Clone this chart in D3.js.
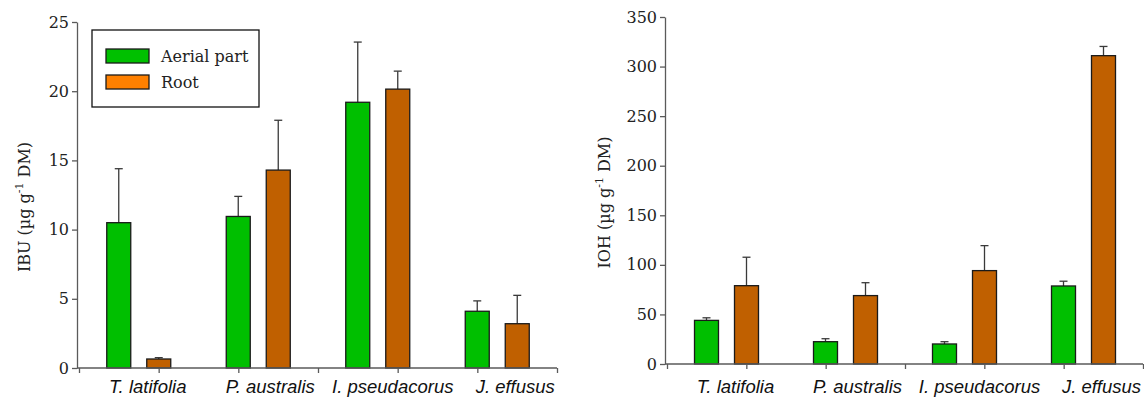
<!DOCTYPE html>
<html>
<head>
<meta charset="utf-8">
<script src="https://cdn.jsdelivr.net/npm/d3@7"></script>
<style>
  body { margin: 0; background: #fff; }
  svg { display: block; }
</style>
</head>
<body>
<div id="chart"></div>
<script>
// species on the x axis and the two plant parts
var species = ["T. latifolia", "P. australis", "I. pseudacorus", "J. effusus"];
var parts = ["Aerial part", "Root"];

// IBU (left panel)
var ibuAerial = [10.5, 10.95, 19.2, 4.1];
var ibuAerialErr = [3.9, 1.45, 4.35, 0.75];
var ibuRoot = [0.65, 14.3, 20.15, 3.2];
var ibuRootErr = [0.1, 3.6, 1.3, 2.05];
var ibuTicks = [0, 5, 10, 15, 20, 25];

// IOH (right panel)
var iohAerial = [44, 22.5, 20.2, 78.7];
var iohAerialErr = [2.6, 3, 2.3, 4.8];
var iohRoot = [79, 69, 94.2, 311];
var iohRootErr = [28.7, 13, 25.2, 9.3];
var iohTicks = [0, 50, 100, 150, 200, 250, 300, 350];

var barColors = {"Aerial part": "#00bf00", "Root": "#c06000"};
var legendColors = {"Aerial part": "#00c000", "Root": "#ff8000"};

var svg = d3.select("#chart").append("svg")
  .attr("width", 1144)
  .attr("height", 398);

function drawPanel(opt) {
  var g = svg.append("g");

  var y = d3.scaleLinear().domain([0, opt.max]).range([opt.y0, opt.y1]);
  var x = d3.scaleBand().domain(species).range([opt.x0, opt.x1]);
  var xSub = d3.scaleBand().domain(parts).range([-40, 40]).paddingInner(0.4).paddingOuter(0.2);
  // evenly spaced ticks along the x axis (six divisions, like the original)
  var xTick = d3.scaleLinear().domain([0, 6]).range([opt.x0, opt.x1]);

  // rows: one per bar
  var rows = [];
  species.forEach(function(s, i) {
    rows.push({sp: s, part: "Aerial part", v: opt.aerial[i], e: opt.aerialErr[i]});
    rows.push({sp: s, part: "Root", v: opt.root[i], e: opt.rootErr[i]});
  });
  function cx(d) { return x(d.sp) + x.bandwidth() / 2; }

  // error bars (upper only)
  var eb = g.append("g").selectAll("g").data(rows).enter().append("g")
    .attr("stroke", "#3a3a3a").attr("stroke-width", 1.3);
  eb.append("line")
    .attr("x1", function(d) { return cx(d) + xSub(d.part) + xSub.bandwidth() / 2; })
    .attr("x2", function(d) { return cx(d) + xSub(d.part) + xSub.bandwidth() / 2; })
    .attr("y1", function(d) { return y(d.v); })
    .attr("y2", function(d) { return y(d.v + d.e); });
  eb.append("line")
    .attr("x1", function(d) { return cx(d) + xSub(d.part) + xSub.bandwidth() / 2 - 4; })
    .attr("x2", function(d) { return cx(d) + xSub(d.part) + xSub.bandwidth() / 2 + 4; })
    .attr("y1", function(d) { return y(d.v + d.e); })
    .attr("y2", function(d) { return y(d.v + d.e); });

  // bars
  g.append("g").selectAll("rect").data(rows).enter().append("rect")
    .attr("x", function(d) { return cx(d) + xSub(d.part); })
    .attr("width", xSub.bandwidth())
    .attr("y", function(d) { return y(d.v); })
    .attr("height", function(d) { return y(0) - y(d.v); })
    .attr("fill", function(d) { return barColors[d.part]; })
    .attr("stroke", "#1a1a1a")
    .attr("stroke-width", 1.3);

  // y axis
  var yAxis = g.append("g")
    .attr("transform", "translate(" + (opt.x0 - 2) + ",0)")
    .call(d3.axisLeft(y).tickValues(opt.ticks).tickSize(5).tickPadding(3).tickSizeOuter(0));
  // x axis
  var xAxis = g.append("g")
    .attr("transform", "translate(0," + opt.y0 + ")")
    .call(d3.axisBottom(xTick).tickValues(d3.range(7)).tickSize(5).tickFormat("").tickSizeOuter(0));
  xAxis.select(".domain").attr("d", "M" + (opt.x0 - 2) + ",0H" + opt.x1);

  [yAxis, xAxis].forEach(function(a) {
    a.selectAll(".domain, line").attr("stroke", "#5a5a5a").attr("stroke-width", 1.3);
  });
  yAxis.selectAll("text")
    .attr("font-family", "'DejaVu Serif', serif")
    .attr("font-size", 16)
    .attr("fill", "#222");

  // species labels
  g.append("g").selectAll("text").data(species).enter().append("text")
    .attr("x", function(d, i) { return x(d) + x.bandwidth() / 2 + 9 + i * 3; })
    .attr("y", 393)
    .attr("text-anchor", "middle")
    .attr("font-family", "'Liberation Sans', Arial, sans-serif")
    .attr("font-style", "italic")
    .attr("font-size", 18.5)
    .attr("fill", "#111")
    .text(function(d) { return d; });

  // y title
  var t = g.append("text")
    .attr("transform", "translate(" + opt.titleX + "," + ((opt.y0 + opt.y1) / 2 + 12) + ") rotate(-90)")
    .attr("text-anchor", "middle")
    .attr("font-family", "'DejaVu Serif', serif")
    .attr("font-size", 16)
    .attr("fill", "#222");
  t.append("tspan").text(opt.title + "  (\u00b5g g");
  t.append("tspan").attr("font-size", 11).attr("dy", -7).text("-1");
  t.append("tspan").attr("dy", 7).text(" DM)");
}

drawPanel({
  x0: 79, x1: 557, y0: 368, y1: 22, max: 25, ticks: ibuTicks,
  aerial: ibuAerial, aerialErr: ibuAerialErr, root: ibuRoot, rootErr: ibuRootErr,
  title: "IBU", titleX: 30
});
drawPanel({
  x0: 667, x1: 1143, y0: 364, y1: 17, max: 350, ticks: iohTicks,
  aerial: iohAerial, aerialErr: iohAerialErr, root: iohRoot, rootErr: iohRootErr,
  title: "IOH", titleX: 610
});

// legend (left panel)
var leg = svg.append("g").attr("transform", "translate(92,30)");
leg.append("rect")
  .attr("width", 167).attr("height", 77)
  .attr("fill", "#fff").attr("stroke", "#111").attr("stroke-width", 1.3);
var li = leg.selectAll("g.item").data(parts).enter().append("g")
  .attr("class", "item")
  .attr("transform", function(d, i) { return "translate(14," + (19 + i * 26) + ")"; });
li.append("rect")
  .attr("width", 43).attr("height", 14)
  .attr("fill", function(d) { return legendColors[d]; })
  .attr("stroke", "#1a1a1a").attr("stroke-width", 1.3);
li.append("text")
  .attr("x", 55).attr("y", 13)
  .attr("font-family", "'DejaVu Serif', serif")
  .attr("font-size", 16)
  .attr("fill", "#222")
  .text(function(d) { return d; });
</script>
</body>
</html>
